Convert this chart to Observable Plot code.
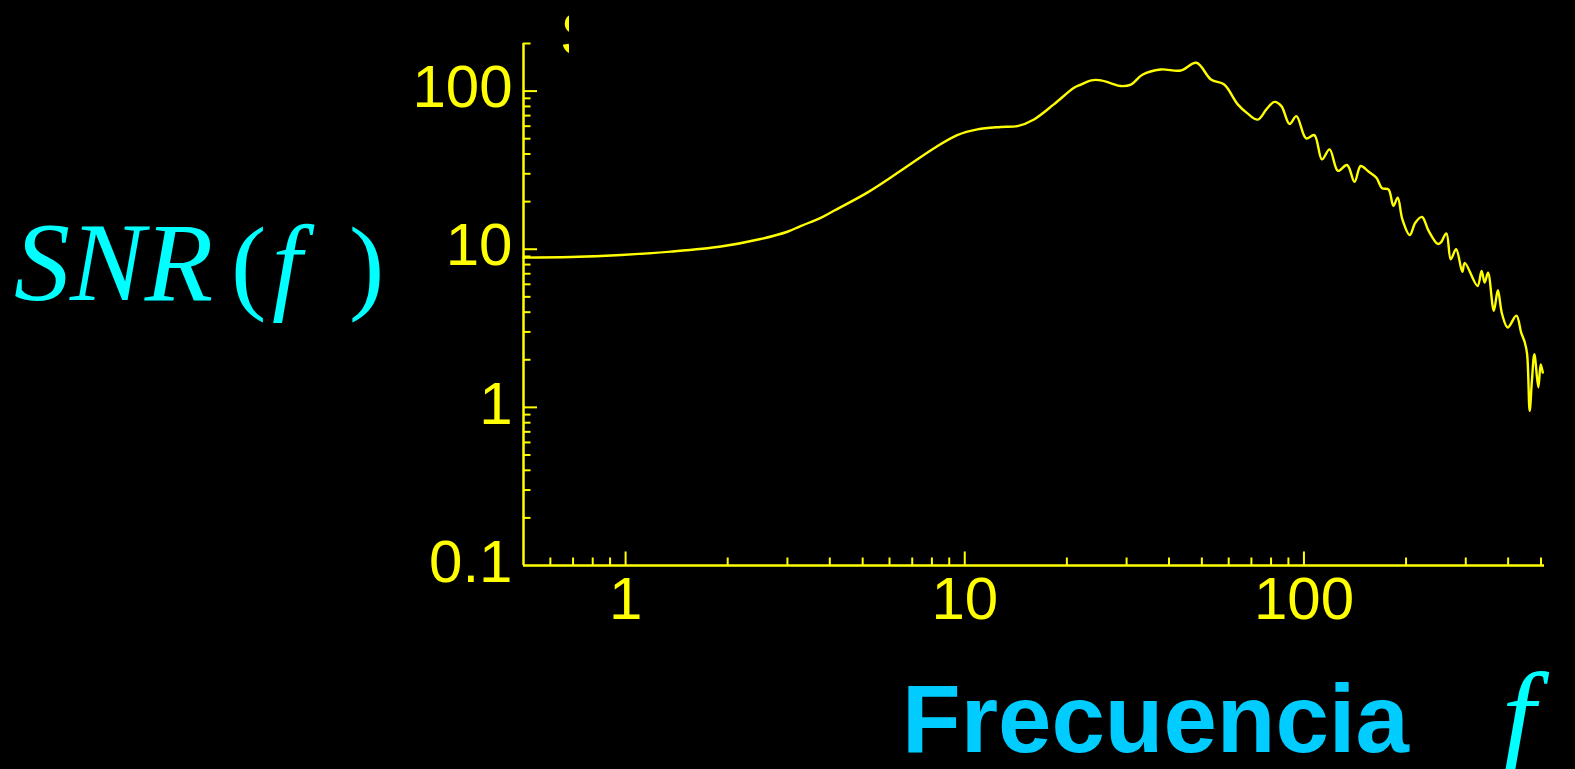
<!DOCTYPE html>
<html>
<head>
<meta charset="utf-8">
<script src="https://cdn.jsdelivr.net/npm/d3@7"></script>
<script src="https://cdn.jsdelivr.net/npm/@observablehq/plot@0.6"></script>
<style>
  html, body { margin: 0; padding: 0; background: #000; overflow: hidden; }
  #chart svg { display: block; }
</style>
</head>
<body>
<div id="chart"></div>
<script>
// ---- data ----
const freq = [0.5, 0.69, 0.97, 1.36, 1.91, 2.5, 3.0, 3.28, 3.76, 4.11, 5.16, 6.47, 8.12, 9.5, 10.9, 12.75, 14.3, 16.0, 18.3, 21.0, 22.0, 23.6, 25.2, 27.0, 28.8, 30.9, 33.4, 37.8, 43.3, 48.2, 53.2, 58.2, 63.8, 68.3, 73.1, 77.5, 81.9, 85.8, 90.7, 95, 101.5, 107.3, 113, 119, 126, 134, 141, 147, 155, 163.6, 170, 177.5, 183.6, 189, 195, 205, 213, 223, 233, 248, 253, 263, 271, 281, 293, 298, 325, 334, 341, 349, 363, 373, 384, 399, 423, 437, 448, 455, 463, 470, 478, 491, 499, 506];
const snr  = [8.85, 8.93, 9.2, 9.66, 10.4, 11.6, 12.9, 14.0, 15.8, 17.5, 22.8, 31.3, 43.5, 52.7, 57.3, 59.3, 60.1, 66.2, 82.4, 105, 110, 117, 117, 112, 107.6, 110, 127, 137, 135, 151, 118.5, 110, 82.4, 72, 66, 76.6, 85.5, 80.4, 62, 69.5, 50.2, 52.7, 37, 42.8, 31.3, 34.1, 26.7, 33.6, 31, 28.3, 24.3, 23.9, 18.8, 21.2, 15.5, 12.3, 14.7, 16, 13.1, 10.8, 11.0, 12.6, 8.65, 10.0, 7.2, 8.2, 5.86, 7.3, 6.15, 7.1, 4.08, 5.5, 3.88, 3.2, 3.8, 2.97, 2.57, 2.17, 0.95, 1.47, 2.17, 1.34, 1.87, 1.66];

const xTickLabels = [1, 10, 100];
const yTickLabels = [0.1, 1, 10, 100];
const xMajorTicks = [1, 10, 100];
const xMinorTicks = [0.6, 0.7, 0.8, 0.9, 2, 3, 4, 5, 6, 7, 8, 9, 20, 30, 40, 50, 60, 70, 80, 90, 200, 300, 400, 500];
const yMajorTicks = [1, 10, 100];
const yMinorTicks = [0.2, 0.3, 0.4, 0.5, 0.6, 0.7, 0.8, 0.9, 2, 3, 4, 5, 6, 7, 8, 9, 20, 30, 40, 50, 60, 70, 80, 90, 200];
const xDomain = [0.5, 512];
const yDomain = [0.1, 200];

const yTitle = ["SNR", "(", "f", ")"];
const xTitle = "Frecuencia";
const xTitleSymbol = "f";
const clippedTop = "S";

const table = freq.map((f, i) => ({f, s: snr[i]}));

// ---- layout ----
const W = 1575, H = 769;
const mL = 523, mR = 31, mT = 43, mB = 204;
const frameW = W - mL - mR, frameH = H - mT - mB;
const YEL = "#ffff00";

const chart = Plot.plot({
  width: W, height: H,
  marginLeft: mL, marginRight: mR, marginTop: mT, marginBottom: mB,
  style: {background: "#000", color: YEL, fontFamily: "'Liberation Sans', Arial, sans-serif", fontSize: "60px"},
  x: {type: "log", domain: xDomain},
  y: {type: "log", domain: yDomain},
  marks: [
    Plot.ruleX(xMinorTicks, {stroke: YEL, strokeWidth: 2, insetTop: frameH - 7.5}),
    Plot.ruleX(xMajorTicks, {stroke: YEL, strokeWidth: 2, insetTop: frameH - 13.5}),
    Plot.ruleY(yMinorTicks, {stroke: YEL, strokeWidth: 2, insetRight: frameW - 7.5}),
    Plot.ruleY(yMajorTicks, {stroke: YEL, strokeWidth: 2, insetRight: frameW - 14}),
    Plot.ruleX([xDomain[0]], {stroke: YEL, strokeWidth: 2.5}),
    Plot.ruleY([yDomain[0]], {stroke: YEL, strokeWidth: 2.5}),
    Plot.axisX({ticks: xTickLabels, tickSize: 0, tickPadding: 11, tickFormat: d => String(d), fontSize: 60, label: null, fill: YEL}),
    Plot.axisY({ticks: yTickLabels, tickSize: 0, tickPadding: 11, tickFormat: d => String(d), fontSize: 60, label: null, fill: YEL, dy: -3}),
    Plot.line(table, {x: "f", y: "s", stroke: YEL, strokeWidth: 2.4, curve: "catmull-rom"})
  ]
});
document.getElementById("chart").appendChild(chart);

// ---- titles ----
const svg = d3.select(chart);
const t = svg.append("text")
  .attr("x", 14).attr("y", 300)
  .attr("text-anchor", "start")
  .attr("fill", "#00ffff")
  .attr("font-family", "'Liberation Serif', 'Times New Roman', serif")
  .attr("font-size", 106);
t.append("tspan").attr("font-style", "italic").attr("font-size", 112).text(yTitle[0]);
t.append("tspan").attr("x", 231).text(yTitle[1]);
t.append("tspan").attr("x", 272).attr("font-style", "italic").attr("font-size", 108).text(yTitle[2]);
t.append("tspan").attr("x", 349).text(yTitle[3]);

svg.append("text")
  .attr("x", 902).attr("y", 752)
  .attr("text-anchor", "start")
  .attr("fill", "#00ccff")
  .attr("font-family", "'Liberation Sans', Arial, sans-serif")
  .attr("font-weight", "bold")
  .attr("font-size", 96)
  .text(xTitle);

svg.append("text")
  .attr("x", 1502).attr("y", 756)
  .attr("text-anchor", "start")
  .attr("fill", "#00ffff")
  .attr("font-family", "'Liberation Serif', 'Times New Roman', serif")
  .attr("font-style", "italic")
  .attr("font-size", 120)
  .text(xTitleSymbol);

svg.append("defs").append("clipPath").attr("id", "topclip")
  .append("rect").attr("x", 562).attr("y", 0).attr("width", 7).attr("height", 70);
svg.append("text")
  .attr("clip-path", "url(#topclip)")
  .attr("x", 560).attr("y", 55)
  .attr("text-anchor", "start")
  .attr("fill", YEL)
  .attr("font-family", "'Liberation Sans', Arial, sans-serif")
  .attr("font-size", 62)
  .text(clippedTop);
</script>
</body>
</html>
